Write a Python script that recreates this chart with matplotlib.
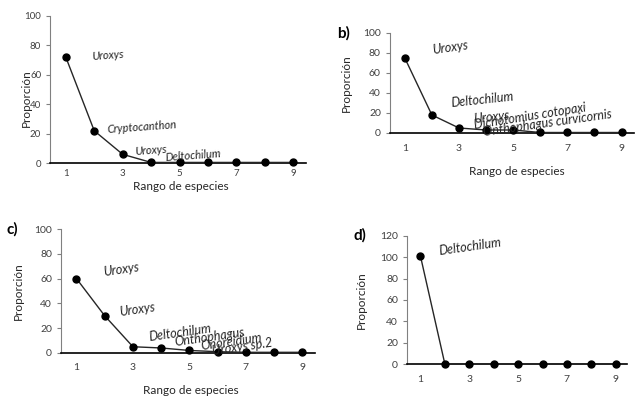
import numpy as np
import matplotlib
matplotlib.use("Agg")
import matplotlib.pyplot as plt

plt.rcParams['font.family'] = ['Lato', 'DejaVu Sans']

rango = [1, 2, 3, 4, 5, 6, 7, 8, 9]
prop_a = [72, 22, 6, 0.5, 0.5, 0.5, 0.5, 0.5, 0.5]
prop_b = [75, 18, 5, 3, 3, 0.5, 0.5, 0.5, 0.5]
prop_c = [60, 30, 5, 4, 2, 1, 0.5, 0.5, 0.5]
prop_d = [101, 0, 0, 0, 0, 0, 0, 0, 0]

esp_a = ["Uroxys", "Cryptocanthon", "Uroxys", "Deltochilum"]
esp_b = ["Uroxys", "Deltochilum", "Uroxys", "Dichotomius cotopaxi", "Onthophagus curvicornis"]
esp_c = ["Uroxys", "Uroxys", "Deltochilum", "Onthophagus", "Onoreidium", "Uroxys sp.2"]
esp_d = ["Deltochilum"]

fig = plt.figure(figsize=(6.35, 3.97), dpi=100)

paneles = [
    # rect, datos, especies, posiciones etiquetas, ylim, letra, letra pos, ylabel (x,y), xlabel y, xlabel x, fs etiq, pad, fs ticks
    ([0.079, 0.589, 0.403, 0.371], prop_a, esp_a,
     [(2.48, 73, 4), (3.68, 24.5, 4), (4.0, 8.8, 4), (5.47, 5.4, 4)],
     100, None, None, (-0.07, 0.44), -0.12, 0.51, 8, 4, 7),
    ([0.614, 0.665, 0.384, 0.252], prop_b, esp_b,
     [(2.68, 85, 8), (3.87, 33, 6), (4.2, 16, 6), (5.62, 17, 9), (6.27, 10, 8)],
     100, "b)", (-0.19, 1.0), (-0.155, 0.5), -0.33, 0.52, 9, 8, 7.5),
    ([0.096, 0.111, 0.400, 0.312], prop_c, esp_c,
     [(2.58, 67, 8), (3.15, 34.7, 8), (4.66, 16, 8), (5.73, 13, 8), (6.5, 9, 8), (6.86, 5, 8)],
     100, "c)", (-0.19, 1.0), (-0.145, 0.5), -0.26, 0.51, 9, 7, 7.5),
    ([0.641, 0.083, 0.346, 0.323], prop_d, esp_d,
     [(3.02, 110, 8)],
     120, "d)", (-0.215, 1.0), (-0.185, 0.5), -0.29, 0.39, 9, 8, 7.5),
]

for rect, datos, especies, pos, ymax, letra, lpos, ylc, xly, xlx, fs, pad, fst in paneles:
    ax = fig.add_axes(rect)
    ax.plot(rango, datos, color='#262626', linewidth=1.0, marker='o',
            markersize=5, markerfacecolor='black', markeredgecolor='black',
            clip_on=False, zorder=3)
    ax.set_xlim(0.45, 9.45)
    ax.set_ylim(0, ymax)
    ax.set_xticks([1, 3, 5, 7, 9])
    ax.set_yticks(np.arange(0, ymax + 1, 20))
    ax.tick_params(axis='x', length=0, pad=pad, labelsize=fst, colors='#404040')
    ax.tick_params(axis='y', length=3, width=0.8, labelsize=fst, colors='#404040')
    ax.tick_params(axis='y', color='#808080')
    for s in ['top', 'right']:
        ax.spines[s].set_visible(False)
    ax.spines['left'].set_color('#808080')
    ax.spines['left'].set_linewidth(0.8)
    ax.spines['bottom'].set_color('black')
    ax.spines['bottom'].set_linewidth(1.2)
    ax.set_ylabel("Proporción", fontsize=8.5, color='#262626')
    ax.yaxis.set_label_coords(*ylc)
    ax.set_xlabel("Rango de especies", fontsize=8.5, color='#262626')
    ax.xaxis.set_label_coords(xlx, xly)
    for nombre, (x, y, rot) in zip(especies, pos):
        ax.text(x, y, nombre, fontsize=fs, style='italic', color='#262626',
                rotation=rot, ha='center', va='center')
    if letra:
        ax.text(lpos[0], lpos[1], letra, transform=ax.transAxes, fontsize=11,
                fontweight='bold', ha='center', va='center')

fig.savefig("out.png", dpi=100)
